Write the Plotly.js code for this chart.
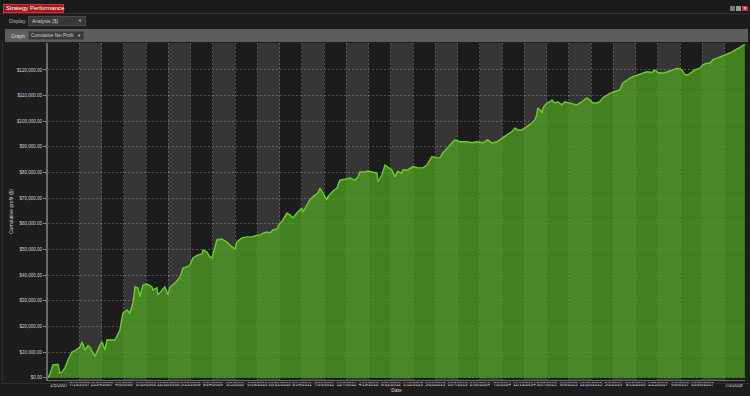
<!DOCTYPE html>
<html>
<head>
<meta charset="utf-8">
<script src="https://cdn.plot.ly/plotly-3.0.1.min.js"></script>
<style>
  html, body { margin:0; padding:0; background:#1d1d1d; width:750px; height:396px; overflow:hidden; font-family:"Liberation Sans", Arial, sans-serif; }
  #chart { position:absolute; left:0; top:0; width:750px; height:396px; }
  .ov { position:absolute; box-sizing:border-box; white-space:nowrap; pointer-events:none; }
</style>
</head>
<body>
<div id="chart"></div>

<!-- window chrome -->
<div class="ov" style="left:0;top:0;width:750px;height:14px;background:#1a1a1a;"></div>
<div class="ov" style="left:0;top:13px;width:750px;height:1px;background:#333;"></div>
<div class="ov" style="left:3px;top:4px;width:61px;height:9px;background:#a8141c;border:1px solid #c8343a;color:#fff;font-size:6px;line-height:7px;padding-left:2px;">Strategy Performance</div>
<div class="ov" style="left:730px;top:6px;width:5px;height:5px;background:#777;"></div>
<div class="ov" style="left:736px;top:6px;width:5px;height:5px;background:#999;"></div>
<div class="ov" style="left:742px;top:6px;width:6px;height:5px;background:#c8343a;color:#fff;font-size:5px;line-height:5px;text-align:center;">×</div>

<div class="ov" style="left:9px;top:18px;color:#b8b8b8;font-size:5px;line-height:6px;">Display</div>
<div class="ov" style="left:28px;top:16px;width:58px;height:10px;background:#383838;border:1px solid #4a4a4a;color:#cfcfcf;font-size:5px;line-height:8px;padding-left:3px;">Analysis ($)<span style="position:absolute;right:3px;top:0;font-size:4px;">▼</span></div>

<div class="ov" style="left:5px;top:29px;width:743px;height:13px;background:#5d5d5d;"></div>
<div class="ov" style="left:11px;top:33px;color:#dcdcdc;font-size:5px;line-height:6px;">Graph</div>
<div class="ov" style="left:28px;top:31px;width:56px;height:9px;background:#3a3a3a;border:1px solid #4c4c4c;color:#d0d0d0;font-size:4.5px;line-height:7px;padding-left:2px;">Cumulative Net Profit<span style="position:absolute;right:2px;top:0;font-size:4px;">▼</span></div>

<div class="ov" style="left:2px;top:42px;width:1px;height:342px;background:#2e2e2e;"></div>
<div class="ov" style="left:2px;top:383px;width:746px;height:1px;background:#2e2e2e;"></div>

<script>
// ---- data ----
const dates = [
 "2007-01-05","2007-01-17","2007-02-04","2007-03-06","2007-03-18","2007-03-30","2007-04-17","2007-05-05",
 "2007-05-29","2007-06-17","2007-07-17","2007-07-29","2007-08-16","2007-09-03","2007-09-15","2007-10-15",
 "2007-11-14","2007-11-26","2007-12-14","2007-12-26",
 "2008-02-12","2008-03-01","2008-03-13","2008-03-31","2008-04-24","2008-05-12","2008-05-30","2008-06-12",
 "2008-06-30","2008-07-12","2008-07-30","2008-08-23","2008-09-22","2008-09-28","2008-10-22","2008-10-28",
 "2008-11-21","2008-12-09","2008-12-27",
 "2009-01-09","2009-02-08","2009-03-10","2009-03-28","2009-04-21","2009-05-09","2009-05-27","2009-06-26",
 "2009-07-20","2009-07-26","2009-08-19","2009-09-06","2009-09-18","2009-10-06","2009-10-18","2009-11-17",
 "2009-12-18",
 "2010-01-17","2010-02-04","2010-02-16","2010-03-18","2010-04-18","2010-05-18","2010-06-17","2010-07-05",
 "2010-07-23","2010-08-16","2010-09-03","2010-09-21","2010-10-15","2010-11-02","2010-11-20","2010-12-14",
 "2011-01-01","2011-01-19","2011-02-12","2011-03-14","2011-03-20","2011-04-13","2011-05-01","2011-05-19",
 "2011-06-19","2011-07-01","2011-07-19","2011-08-12","2011-08-18","2011-09-11","2011-10-11","2011-10-29",
 "2011-11-28","2011-12-28",
 "2012-01-27","2012-02-15","2012-02-27","2012-03-28","2012-04-15","2012-04-27","2012-06-08","2012-06-14",
 "2012-07-08","2012-07-26","2012-08-13","2012-09-06","2012-09-24","2012-10-12","2012-11-05","2012-11-11",
 "2012-12-11",
 "2013-01-11","2013-02-10","2013-03-12","2013-04-05","2013-05-05","2013-06-04","2013-06-22","2013-07-10",
 "2013-08-03","2013-09-02","2013-09-20","2013-10-21","2013-12-02",
 "2014-01-01","2014-01-31","2014-03-08","2014-04-07","2014-05-01","2014-06-01","2014-07-01","2014-07-31",
 "2014-08-30","2014-09-17","2014-10-05","2014-10-29","2014-11-28","2014-12-28",
 "2015-01-15","2015-01-27","2015-02-02","2015-02-15","2015-02-27","2015-03-05","2015-03-29","2015-04-16",
 "2015-04-28","2015-05-16","2015-06-03","2015-06-27","2015-07-15","2015-08-14","2015-09-25","2015-10-25",
 "2015-11-24","2015-12-12","2015-12-31",
 "2016-01-24","2016-02-11","2016-02-29","2016-03-24","2016-04-11","2016-05-11","2016-06-10","2016-06-28",
 "2016-07-22","2016-08-10","2016-08-28","2016-09-27","2016-10-21","2016-11-20","2016-12-20",
 "2017-01-07","2017-01-25","2017-02-24","2017-03-26","2017-04-25","2017-05-25","2017-06-19","2017-07-07",
 "2017-07-25","2017-08-18","2017-09-05","2017-10-05","2017-10-23","2017-11-16","2017-12-04","2017-12-22",
 "2018-02-03","2018-04-04","2018-06-03","2018-07-03"
];
const profit = [
 0,1500,5000,5200,1800,2200,3800,6900,
 10000,10500,12000,13900,10800,12500,11800,8300,
 12700,14000,10800,14700,
 14700,17000,18600,25200,26400,25200,29000,35400,
 35000,31600,36100,36500,35400,34200,35000,32300,
 34200,35400,32300,
 35400,36900,39300,42700,43200,43900,46700,47900,
 48200,49800,49000,47100,46700,50600,53700,54100,
 52900,
 51000,50200,52900,54500,54900,54900,55600,55600,
 56400,56800,56400,57600,58000,60300,61500,64200,
 63500,62300,64200,66200,64600,67300,69300,70500,
 72000,73900,72000,69300,70500,72400,73900,77000,
 77400,77900,
 77000,78300,80200,80200,80600,80400,79800,76400,
 79000,82900,82100,81000,78400,80400,79800,81000,
 81000,
 82300,81800,81800,82900,86200,85700,85700,87600,
 89500,91500,92700,92000,92000,
 91600,92000,91600,92700,91500,92000,93500,94700,
 96000,97300,96600,96600,97900,99300,
 100500,102500,105200,104400,103200,105200,107100,107600,
 108300,107100,107600,106400,107600,107100,106400,107600,
 109100,108300,107100,
 107100,107600,109100,110300,110900,111600,112200,114800,
 116100,116800,117400,118100,118700,119300,119000,
 120000,119000,118700,119300,120000,120700,120000,118100,
 118100,119300,120000,120700,122000,122600,122600,123900,
 125000,126600,128800,130000
];
const xTickVals = [
 "2007-01-05","2007-07-13","2007-11-24","2008-04-06","2008-08-18","2008-12-30","2009-05-13","2009-09-24",
 "2010-02-05","2010-06-19","2010-10-31","2011-03-14","2011-07-26","2011-12-07","2012-04-19","2012-08-31",
 "2013-01-12","2013-05-26","2013-10-07","2014-02-18","2014-07-02","2014-11-13","2015-03-27","2015-08-08",
 "2015-12-20","2016-05-02","2016-09-13","2017-01-25","2017-06-08","2017-10-20","2018-03-03","2018-07-03"
];
const xTickText = [
 "1/5/2007","7/13/2007","11/24/2007","4/6/2008","8/18/2008","12/30/2008","5/13/2009","9/24/2009",
 "2/5/2010","6/19/2010","10/31/2010","3/14/2011","7/26/2011","12/7/2011","4/19/2012","8/31/2012",
 "1/12/2013","5/26/2013","10/7/2013","2/18/2014","7/2/2014","11/13/2014","3/27/2015","8/8/2015",
 "12/20/2015","5/2/2016","9/13/2016","1/25/2017","6/8/2017","10/20/2017","","7/3/2018"
];
const yTickVals = [0,10000,20000,30000,40000,50000,60000,70000,80000,90000,100000,110000,120000];
const yTickText = ["$0.00","$10,000.00","$20,000.00","$30,000.00","$40,000.00","$50,000.00","$60,000.00",
 "$70,000.00","$80,000.00","$90,000.00","$100,000.00","$110,000.00","$120,000.00"];

// alternating shaded bands between consecutive tick positions
const shapes = [];
for (let i = 1; i + 1 < xTickVals.length; i += 2) {
  shapes.push({type:'rect', xref:'x', yref:'paper', x0:xTickVals[i], x1:xTickVals[i+1], y0:0, y1:1,
    fillcolor:'#363636', line:{width:0}, layer:'below'});
}

// first and last date labels sit inside the plot edges (left / right aligned), as in the reference
const last = xTickVals.length - 1;
const axisTickText = xTickText.map((t, i) => (i === 0 || i === last) ? "" : t);
const edgeLabel = (i, anchor) => ({
  text: xTickText[i], x: xTickVals[i], xref:'x', y:0, yref:'paper',
  xanchor: anchor, yanchor:'top', yshift:-0.5, showarrow:false,
  font:{size:4.5, color:'#d4d4d4'}
});

const trace = {
  type:'scatter', mode:'lines', x:dates, y:profit,
  fill:'tozeroy', fillcolor:'rgba(80,160,35,0.76)',
  line:{color:'#66d41a', width:1.4}, hoverinfo:'skip'
};

const layout = {
  width:750, height:396,
  margin:{l:48, r:5, t:43, b:16},
  paper_bgcolor:'#1d1d1d', plot_bgcolor:'#1c1c1c',
  font:{family:'"Liberation Sans", Arial, sans-serif', size:4.5, color:'#d4d4d4'},
  showlegend:false,
  shapes:shapes,
  annotations:[edgeLabel(0, 'left'), edgeLabel(last, 'right')],
  xaxis:{
    type:'date', range:['2007-01-05','2018-07-04'],
    tickmode:'array', tickvals:xTickVals, ticktext:axisTickText, tickangle:0,
    showgrid:true, gridcolor:'rgba(200,200,200,0.32)', griddash:'2px,2px', gridwidth:1,
    showline:true, linecolor:'#6a6a6a', linewidth:1,
    ticks:'', tickfont:{size:4.5, color:'#d4d4d4'},
    title:{text:'Date', font:{size:5, color:'#d4d4d4'}, standoff:2},
    zeroline:false, automargin:false
  },
  yaxis:{
    range:[-900,130500],
    tickmode:'array', tickvals:yTickVals, ticktext:yTickText,
    showgrid:true, gridcolor:'rgba(200,200,200,0.32)', griddash:'2px,2px', gridwidth:1,
    showline:true, linecolor:'#6a6a6a', linewidth:2,
    ticks:'outside', ticklen:3, tickcolor:'#8a8a8a',
    tickfont:{size:4.5, color:'#d4d4d4'},
    title:{text:'Cumulative profit ($)', font:{size:5, color:'#d4d4d4'}, standoff:3},
    zeroline:false, automargin:false
  }
};

Plotly.newPlot('chart', [trace], layout, {staticPlot:true, displayModeBar:false});
</script>
</body>
</html>
